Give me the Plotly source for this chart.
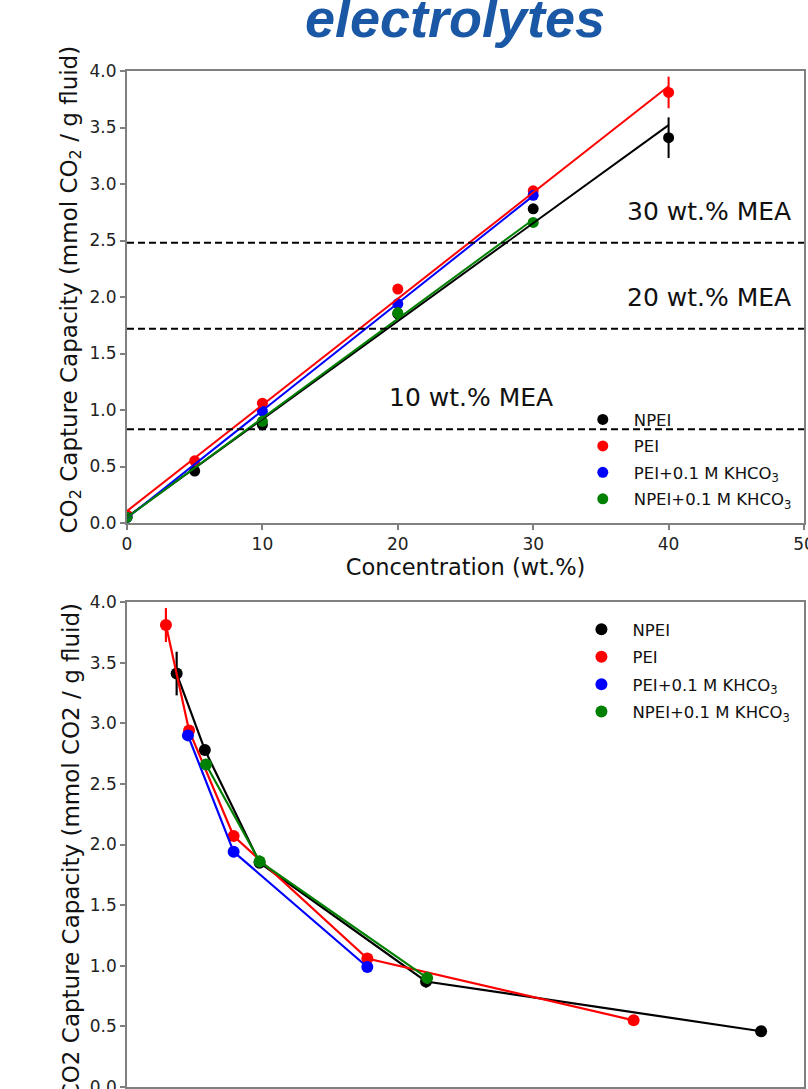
import numpy as np
import plotly.graph_objects as go

# ---------------- data ----------------
series_names = ["NPEI", "PEI", "PEI+0.1 M KHCO<sub>3</sub>", "NPEI+0.1 M KHCO<sub>3</sub>"]
series_colors = ["#000000", "#ff0000", "#0000ff", "#008000"]

# top panel: concentration (wt.%) vs capacity
conc_npei = [0, 5, 10, 20, 30, 40]
cap_npei = [0.05, 0.46, 0.87, 1.85, 2.78, 3.41]
err_npei = [0.02, 0.02, 0.05, 0.04, 0.03, 0.18]

conc_pei = [0, 5, 10, 20, 30, 40]
cap_pei = [0.07, 0.55, 1.06, 2.07, 2.94, 3.81]
err_pei = [0.02, 0.03, 0.03, 0.04, 0.03, 0.14]

conc_pei_k = [0, 10, 20, 30]
cap_pei_k = [0.05, 0.99, 1.94, 2.90]
err_pei_k = [0.02, 0.03, 0.04, 0.03]

conc_npei_k = [0, 10, 20, 30]
cap_npei_k = [0.05, 0.90, 1.86, 2.66]
err_npei_k = [0.02, 0.05, 0.05, 0.03]

# reference MEA capacities
mea_labels = ["10 wt.% MEA", "20 wt.% MEA", "30 wt.% MEA"]
mea_capacity = [0.83, 1.72, 2.48]

# bottom panel: x quantity for the non-zero concentrations
bx_npei = [5.62, 2.65, 1.175, 0.69, 0.44]
bx_pei = [4.49, 2.13, 0.945, 0.55, 0.345]
bx_pei_k = [2.13, 0.945, 0.54]
bx_npei_k = [2.66, 1.175, 0.70]

top_x_ticks = [0, 10, 20, 30, 40, 50]
y_ticks = [0.0, 0.5, 1.0, 1.5, 2.0, 2.5, 3.0, 3.5, 4.0]
bottom_x_ticks = [0, 1, 2, 3, 4, 5, 6]

top_sets = [
    (conc_npei, cap_npei, err_npei),
    (conc_pei, cap_pei, err_pei),
    (conc_pei_k, cap_pei_k, err_pei_k),
    (conc_npei_k, cap_npei_k, err_npei_k),
]
bottom_x = [bx_npei, bx_pei, bx_pei_k, bx_npei_k]

FONT = "DejaVu Sans"
fig = go.Figure()

# ---------- top panel ----------
for name, color, (cx, cy, ce) in zip(series_names, series_colors, top_sets):
    fig.add_trace(go.Scatter(
        x=cx, y=cy, mode="markers", name=name,
        marker=dict(color=color, size=11),
        error_y=dict(type="data", array=ce, color=color, thickness=2, width=0),
        xaxis="x", yaxis="y", legend="legend", legendgroup="t" + name,
    ))
for name, color, (cx, cy, ce) in zip(series_names, series_colors, top_sets):
    slope, intercept = np.polyfit(cx, cy, 1)
    xs = np.array([min(cx), max(cx)], dtype=float)
    fig.add_trace(go.Scatter(
        x=xs, y=slope * xs + intercept, mode="lines", showlegend=False,
        line=dict(color=color, width=2), hoverinfo="skip",
        xaxis="x", yaxis="y",
    ))

# ---------- bottom panel ----------
for name, color, bx, (cx, cy, ce) in zip(series_names, series_colors, bottom_x, top_sets):
    ys = cy[1:]
    es = ce[1:]
    fig.add_trace(go.Scatter(
        x=bx, y=ys, mode="lines", showlegend=False,
        line=dict(color=color, width=2.2), hoverinfo="skip",
        xaxis="x2", yaxis="y2",
    ))
    fig.add_trace(go.Scatter(
        x=bx, y=ys, mode="markers", name=name,
        marker=dict(color=color, size=12),
        error_y=dict(type="data", array=es, color=color, thickness=2.2, width=0),
        xaxis="x2", yaxis="y2", legend="legend2", legendgroup="b" + name,
    ))

# MEA reference lines
for v in mea_capacity:
    fig.add_shape(type="line", xref="x domain", yref="y", x0=0, x1=1, y0=v, y1=v,
                  line=dict(color="black", width=2, dash="7px,4px"))

# MEA labels
mea_pos = [(25.4, 1.11), (43.0, 1.995), (43.0, 2.76)]
for lab, (px, py) in zip(mea_labels, mea_pos):
    fig.add_annotation(x=px, y=py, xref="x", yref="y", text=lab, showarrow=False,
                       font=dict(family=FONT, size=25, color="#111111"))

axis_common = dict(
    showline=True, mirror=True, linecolor="#808080", linewidth=2,
    ticks="outside", ticklen=5, tickwidth=1.5, tickcolor="#808080",
    showgrid=False, zeroline=False, automargin=False, ticklabeloverflow="allow",
    tickfont=dict(family=FONT, size=17, color="#222222"),
)

fig.update_layout(
    width=808, height=1089,
    margin=dict(l=127, r=4, t=71, b=2),
    paper_bgcolor="white", plot_bgcolor="white",
    showlegend=True,
    title=dict(text="<b><i>electrolytes</i></b>", x=455 / 808, xanchor="center",
               xref="container", y=1 - 37 / 1089, yanchor="bottom", yref="container",
               font=dict(family="Liberation Sans", size=54, color="#1a58a6")),
    xaxis=dict(domain=[0, 1], range=[0, 50], tickvals=top_x_ticks, anchor="y",
               title=dict(text="Concentration (wt.%)", font=dict(family=FONT, size=22.5, color="#111111"), standoff=6),
               **axis_common),
    yaxis=dict(domain=[1 - 452 / 1016, 1], range=[0, 4], tickvals=y_ticks, tickformat=".1f",
               anchor="x", **axis_common),
    xaxis2=dict(domain=[0, 1], range=[0, 6], tickvals=bottom_x_ticks, anchor="y2",
                **{**axis_common, "linewidth": 1.5}),
    yaxis2=dict(domain=[0, 1 - 531 / 1016], range=[0, 4], tickvals=y_ticks, tickformat=".1f",
                anchor="x2", **{**axis_common, "linewidth": 1.5}),
    legend=dict(x=0.657, y=0.674, xanchor="left", yanchor="top", bgcolor="rgba(0,0,0,0)",
                itemwidth=52, traceorder="grouped", tracegroupgap=2,
                font=dict(family=FONT, size=16.5, color="#111111")),
    legend2=dict(x=0.655, y=0.4675, xanchor="left", yanchor="top", bgcolor="rgba(0,0,0,0)",
                 itemwidth=52, traceorder="grouped", tracegroupgap=3,
                 font=dict(family=FONT, size=16.5, color="#111111")),
)

# y-axis titles as rotated annotations
ytitle_top = "CO<sub>2</sub> Capture Capacity (mmol CO<sub>2</sub> / g fluid)"
ytitle_bot = "CO2 Capture Capacity (mmol CO2 / g fluid)"
fig.add_annotation(x=(71 - 127) / 677, y=0.785, xref="paper", yref="paper", text=ytitle_top,
                   textangle=-90, showarrow=False, xanchor="center", yanchor="middle",
                   font=dict(family=FONT, size=23, color="#111111"))
fig.add_annotation(x=(71 - 127) / 677, y=0.232, xref="paper", yref="paper", text=ytitle_bot,
                   textangle=-90, showarrow=False, xanchor="center", yanchor="middle",
                   font=dict(family=FONT, size=23, color="#111111"))

fig.write_html("out.html")
